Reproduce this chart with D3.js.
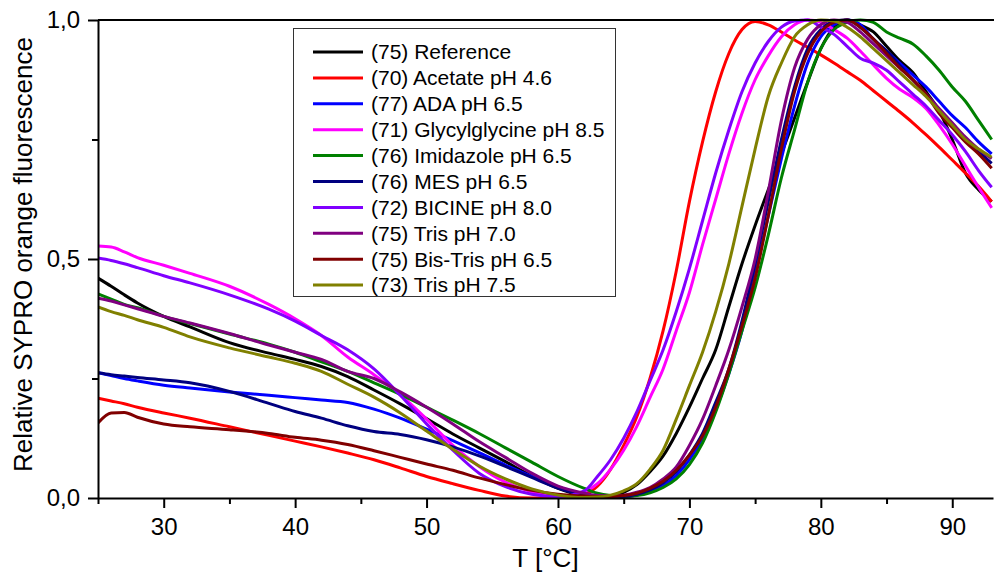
<!DOCTYPE html>
<html>
<head>
<meta charset="utf-8">
<script src="https://cdn.jsdelivr.net/npm/d3@7"></script>
<style>
  html, body { margin: 0; padding: 0; background: #fff; }
  svg { display: block; font-family: Arial, "Liberation Sans", sans-serif; }
</style>
</head>
<body>
<svg id="chart" width="994" height="575"></svg>
<script>
// ---------- DATA ----------
const temps = [25,26,27,28,30,32,35,38,40,42,44,46,48,50,52,54,56,58,60,62,
  63,64,65,66,67,68,69,70,71,72,73,74,75,76,77,78,79,80,81,82,83,84,85,86,87,88,89,90,91,92,93];

const seriesNames = [
  "(75) Reference",
  "(70) Acetate pH 4.6",
  "(77) ADA pH 6.5",
  "(71) Glycylglycine pH 8.5",
  "(76) Imidazole pH 6.5",
  "(76) MES pH 6.5",
  "(72) BICINE pH 8.0",
  "(75) Tris pH 7.0",
  "(75) Bis-Tris pH 6.5",
  "(73) Tris pH 7.5"
];
const seriesColors = ["#000000","#ff0000","#0000ff","#ff00ff","#008000","#000080","#8000ff","#800080","#800000","#808000"];

const reference = [0.46,0.443,0.425,0.408,0.38,0.358,0.325,0.303,0.29,0.275,0.254,0.226,0.197,0.166,0.134,0.105,0.076,0.046,0.02,0.004,
  0.001,0.003,0.012,0.028,0.055,0.088,0.135,0.19,0.25,0.31,0.40,0.49,0.57,0.645,0.72,0.795,0.87,0.94,0.985,1.0,0.99,0.975,0.945,0.915,0.89,0.85,0.81,0.75,0.68,0.645,0.62];
const acetate = [0.209,0.203,0.197,0.19,0.178,0.167,0.149,0.131,0.119,0.107,0.094,0.08,0.063,0.045,0.03,0.016,0.004,0.0,0.0,0.008,
  0.025,0.06,0.11,0.17,0.25,0.35,0.475,0.62,0.745,0.85,0.93,0.98,0.997,0.99,0.975,0.958,0.943,0.927,0.91,0.892,0.874,0.852,0.83,0.808,0.785,0.76,0.734,0.707,0.68,0.652,0.62];
const ada = [0.262,0.256,0.25,0.245,0.236,0.23,0.222,0.215,0.21,0.205,0.2,0.186,0.167,0.144,0.12,0.095,0.069,0.045,0.023,0.008,
  0.003,0.001,0.002,0.006,0.014,0.026,0.047,0.08,0.125,0.185,0.26,0.35,0.47,0.59,0.71,0.82,0.91,0.965,0.99,1.0,0.99,0.96,0.935,0.91,0.885,0.86,0.83,0.8,0.775,0.745,0.72];
const glycylglycine = [0.527,0.525,0.515,0.503,0.487,0.47,0.443,0.405,0.375,0.34,0.295,0.258,0.216,0.165,0.11,0.066,0.033,0.013,0.003,0.013,
  0.03,0.06,0.1,0.15,0.21,0.27,0.35,0.43,0.53,0.625,0.72,0.805,0.875,0.925,0.965,0.99,1.0,0.995,0.98,0.962,0.935,0.906,0.878,0.855,0.838,0.815,0.78,0.74,0.695,0.65,0.607];
const imidazole = [0.427,0.416,0.405,0.398,0.38,0.365,0.343,0.322,0.305,0.285,0.265,0.241,0.217,0.19,0.163,0.135,0.105,0.075,0.045,0.02,
  0.01,0.005,0.003,0.005,0.011,0.022,0.04,0.07,0.115,0.18,0.26,0.35,0.44,0.55,0.67,0.77,0.87,0.94,0.98,0.995,1.0,0.995,0.975,0.962,0.95,0.925,0.895,0.86,0.83,0.79,0.75];
const mes = [0.262,0.258,0.255,0.252,0.247,0.241,0.223,0.198,0.181,0.167,0.151,0.139,0.133,0.122,0.107,0.088,0.066,0.043,0.021,0.006,
  0.002,0.001,0.003,0.008,0.017,0.032,0.055,0.09,0.135,0.2,0.27,0.37,0.49,0.62,0.75,0.86,0.94,0.98,0.997,1.0,0.985,0.96,0.935,0.905,0.875,0.845,0.81,0.78,0.75,0.725,0.7];
const bicine = [0.502,0.497,0.49,0.482,0.465,0.45,0.425,0.395,0.37,0.34,0.31,0.27,0.215,0.155,0.1,0.052,0.024,0.008,0.003,0.015,
  0.045,0.08,0.125,0.18,0.245,0.31,0.39,0.48,0.58,0.68,0.77,0.85,0.91,0.955,0.985,0.998,1.0,0.985,0.97,0.945,0.92,0.91,0.895,0.87,0.845,0.82,0.79,0.76,0.725,0.685,0.65];
const tris70 = [0.418,0.412,0.404,0.396,0.38,0.366,0.344,0.32,0.305,0.29,0.265,0.25,0.222,0.19,0.155,0.118,0.085,0.052,0.025,0.01,
  0.005,0.004,0.006,0.012,0.022,0.04,0.065,0.11,0.165,0.235,0.31,0.40,0.50,0.64,0.79,0.90,0.96,0.99,1.0,0.995,0.975,0.95,0.925,0.9,0.875,0.845,0.815,0.785,0.755,0.73,0.71];
const bisTris = [0.157,0.178,0.179,0.169,0.155,0.149,0.143,0.135,0.127,0.121,0.112,0.099,0.085,0.071,0.058,0.042,0.028,0.016,0.008,0.004,
  0.003,0.003,0.005,0.01,0.02,0.035,0.058,0.09,0.13,0.19,0.27,0.36,0.46,0.59,0.73,0.85,0.93,0.975,0.995,1.0,0.985,0.96,0.93,0.9,0.875,0.845,0.805,0.775,0.745,0.72,0.69];
const tris75 = [0.40,0.39,0.382,0.373,0.357,0.337,0.314,0.295,0.282,0.265,0.238,0.211,0.178,0.14,0.102,0.067,0.04,0.019,0.006,0.001,
  0.002,0.006,0.015,0.03,0.06,0.1,0.165,0.235,0.305,0.39,0.49,0.61,0.73,0.84,0.91,0.965,0.99,1.0,0.998,0.985,0.965,0.94,0.915,0.89,0.865,0.84,0.81,0.78,0.75,0.73,0.713];

const seriesValues = [reference, acetate, ada, glycylglycine, imidazole, mes, bicine, tris70, bisTris, tris75];

const xMajorTicks = [30,40,50,60,70,80,90];
const xMinorTicks = [25,35,45,55,65,75,85];
const yMajorTicks = [0,0.5,1.0];
const yMinorTicks = [0.25,0.75];

// ---------- LAYOUT ----------
const svg = d3.select("#chart");
const plotLeft = 98, plotRight = 993, plotTop = 20, plotBottom = 498;
const x = d3.scaleLinear().domain([25, 93.1]).range([plotLeft, plotRight]);
const y = d3.scaleLinear().domain([0, 1]).range([plotBottom, plotTop]);

svg.append("defs").append("clipPath").attr("id","clip")
  .append("rect").attr("x", plotLeft).attr("y", plotTop - 2)
  .attr("width", plotRight - plotLeft + 2).attr("height", plotBottom - plotTop + 2);

// lines
const line = d3.line().x(d => x(d[0])).y(d => y(d[1])).curve(d3.curveMonotoneX);
const gLines = svg.append("g").attr("clip-path","url(#clip)");
seriesValues.forEach((vals, i) => {
  gLines.append("path")
    .datum(temps.map((t, j) => [t, vals[j]]))
    .attr("d", line)
    .attr("fill","none")
    .attr("stroke", seriesColors[i])
    .attr("stroke-width", 3)
    .attr("stroke-linejoin","round");
});

const fmt = d => d3.format(".1f")(d).replace(".", ",");
const fontFam = "Arial, 'Liberation Sans', sans-serif";

// x axis
const gx = svg.append("g").attr("transform", `translate(0,${plotBottom})`);
gx.call(d3.axisBottom(x).tickValues(xMajorTicks).tickSize(10).tickSizeOuter(0).tickPadding(10).tickFormat(d3.format("d")));
gx.append("g").call(d3.axisBottom(x).tickValues(xMinorTicks).tickSize(6).tickSizeOuter(0).tickFormat(""))
  .select(".domain").remove();
gx.selectAll("line").attr("stroke","#000").attr("stroke-width",2);
gx.select(".domain").attr("stroke","#000").attr("stroke-width",2);
gx.selectAll("text").attr("font-size",24).attr("fill","#000").attr("font-family",fontFam);

// y axis
const gy = svg.append("g").attr("transform", `translate(${plotLeft},0)`);
gy.call(d3.axisLeft(y).tickValues(yMajorTicks).tickSize(10).tickSizeOuter(0).tickPadding(8).tickFormat(fmt));
gy.append("g").call(d3.axisLeft(y).tickValues(yMinorTicks).tickSize(6).tickSizeOuter(0).tickFormat(""))
  .select(".domain").remove();
gy.selectAll("line").attr("stroke","#000").attr("stroke-width",2);
gy.select(".domain").attr("stroke","#000").attr("stroke-width",2);
gy.selectAll("text").attr("font-size",24).attr("fill","#000").attr("font-family",fontFam);

// top frame line
svg.append("line").attr("x1", plotLeft).attr("x2", 994).attr("y1", plotTop).attr("y2", plotTop)
  .attr("stroke","#000").attr("stroke-width",2);

// axis titles
svg.append("text").attr("x", (plotLeft + plotRight) / 2).attr("y", 567)
  .attr("text-anchor","middle").attr("font-size",26).attr("fill","#000").text("T [°C]");
svg.append("text").attr("transform", `translate(32,${(37 + 472) / 2}) rotate(-90)`)
  .attr("text-anchor","middle").attr("font-size",26).attr("fill","#000").text("Relative SYPRO orange fluorescence");

// legend
const legX = 293, legY = 28, legW = 322, legH = 268;
const gl = svg.append("g");
gl.append("rect").attr("x", legX + 0.5).attr("y", legY + 0.5).attr("width", legW).attr("height", legH)
  .attr("fill","#fff").attr("stroke","#333").attr("stroke-width",1);
seriesNames.forEach((name, i) => {
  const cy = 52 + i * 25.9;
  gl.append("line").attr("x1", 313).attr("x2", 363).attr("y1", cy).attr("y2", cy)
    .attr("stroke", seriesColors[i]).attr("stroke-width", 3);
  gl.append("text").attr("x", 371).attr("y", cy).attr("dy","0.35em")
    .attr("font-size",21).attr("fill","#000").text(name);
});
</script>
</body>
</html>
